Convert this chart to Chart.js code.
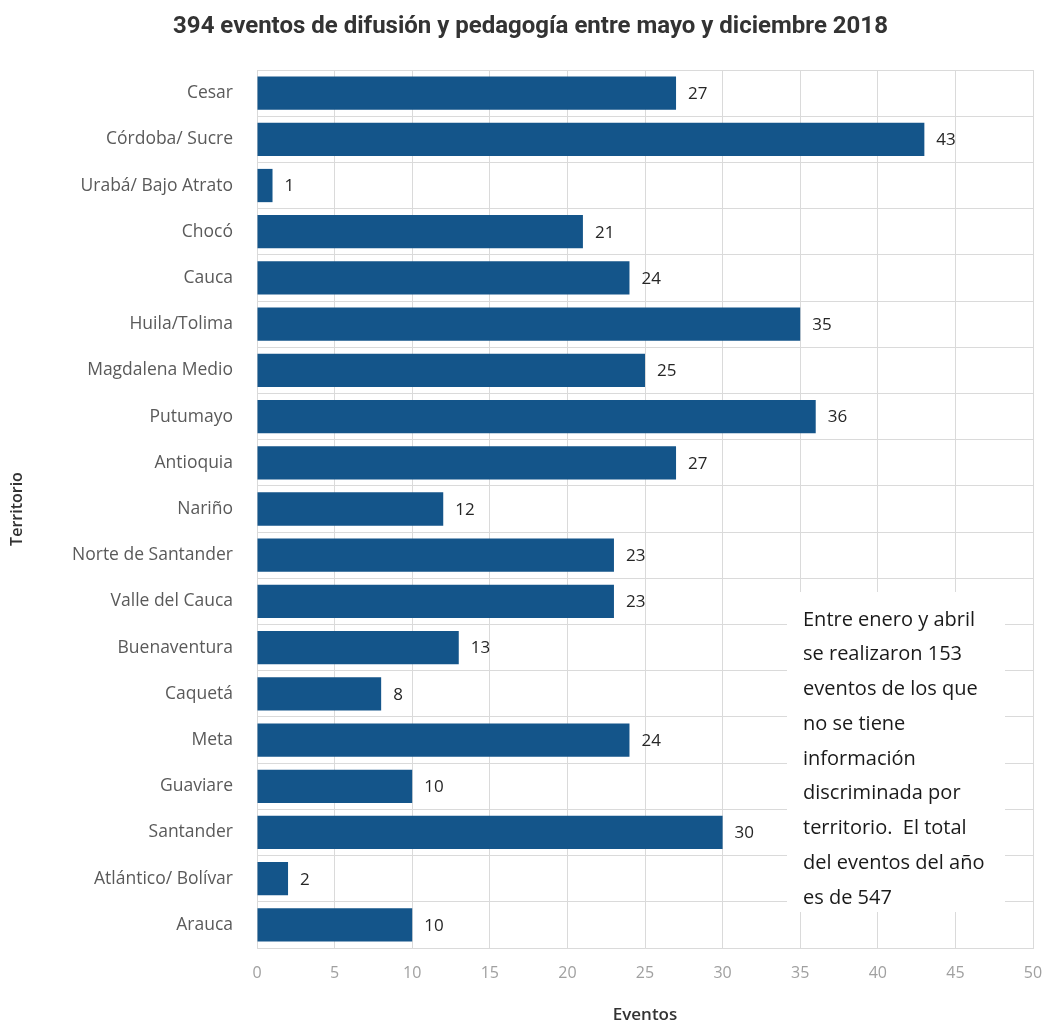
<!DOCTYPE html>
<html>
<head>
<meta charset="utf-8">
<script src="https://cdn.jsdelivr.net/npm/chart.js@4/dist/chart.umd.min.js"></script>
<style>
  html, body { margin: 0; padding: 0; background: #fff; }
  #wrap { width: 1049px; height: 1028px; }
</style>
</head>
<body>
<div id="wrap"><canvas id="myChart" width="1049" height="1028"></canvas></div>
<script>
const territorios = ['Cesar', 'Córdoba/ Sucre', 'Urabá/ Bajo Atrato', 'Chocó', 'Cauca', 'Huila/Tolima',
  'Magdalena Medio', 'Putumayo', 'Antioquia', 'Nariño', 'Norte de Santander', 'Valle del Cauca',
  'Buenaventura', 'Caquetá', 'Meta', 'Guaviare', 'Santander', 'Atlántico/ Bolívar', 'Arauca'];
const eventos = [27, 43, 1, 21, 24, 35, 25, 36, 27, 12, 23, 23, 13, 8, 24, 10, 30, 2, 10];
const nota = ['Entre enero y abril', 'se realizaron 153', 'eventos de los que', 'no se tiene',
  'información', 'discriminada por', 'territorio.  El total', 'del eventos del año', 'es de 547'];

const gridColor = '#dadada';
const labelFont = '"Open Sans", Lato, sans-serif';

// valores al final de cada barra
const valueLabels = {
  id: 'valueLabels',
  afterDatasetsDraw(chart) {
    const ctx = chart.ctx;
    const meta = chart.getDatasetMeta(0);
    ctx.save();
    ctx.font = '17px ' + labelFont;
    ctx.fillStyle = '#262626';
    ctx.textBaseline = 'middle';
    ctx.textAlign = 'left';
    meta.data.forEach((bar, i) => {
      ctx.fillText(eventos[i], bar.x + 12, bar.y + 1);
    });
    ctx.restore();
  }
};

// recuadro con la nota
const noteBox = {
  id: 'noteBox',
  beforeDatasetsDraw(chart) {
    const ctx = chart.ctx;
    const a = chart.chartArea;
    const x0 = a.left + 530, y0 = a.top + 522;
    ctx.save();
    ctx.fillStyle = '#fff';
    ctx.fillRect(x0, y0, 218, 320);
    ctx.font = '20px ' + labelFont;
    ctx.fillStyle = '#1a1a1a';
    ctx.textBaseline = 'middle';
    nota.forEach((line, i) => {
      ctx.fillText(line, x0 + 16, y0 + 28 + i * 34.75);
    });
    ctx.restore();
  }
};

new Chart(document.getElementById('myChart'), {
  type: 'bar',
  data: {
    labels: territorios,
    datasets: [{
      label: 'Eventos',
      data: eventos,
      backgroundColor: '#14558a',
      categoryPercentage: 1,
      barPercentage: 0.72
    }]
  },
  options: {
    indexAxis: 'y',
    responsive: false,
    animation: false,
    layout: { padding: { left: 28, right: 16, top: 0, bottom: 0 } },
    plugins: {
      legend: { display: false },
      tooltip: { enabled: false },
      title: {
        display: true,
        text: '394 eventos de difusión y pedagogía entre mayo y diciembre 2018',
        color: '#333',
        font: { family: 'Roboto, sans-serif', size: 24, weight: 'bold' },
        padding: { top: 13, bottom: 28.2 }
      }
    },
    scales: {
      x: {
        min: 0,
        max: 50,
        ticks: { stepSize: 5, color: '#a0a0a0', padding: 16, font: { family: labelFont, size: 16 } },
        grid: { color: gridColor, drawTicks: false },
        border: { color: gridColor },
        title: {
          display: true, text: 'Eventos', color: '#333',
          font: { family: labelFont, size: 17, weight: '600' },
          padding: { top: 0, bottom: 3 }
        },
        afterFit(scale) {
          scale.height = 80;
          scale.paddingLeft = 0;
          scale.paddingRight = 0;
        }
      },
      y: {
        ticks: { color: '#5a5a5a', padding: 24, font: { family: labelFont, size: 17.5 } },
        grid: { color: gridColor, drawTicks: false },
        border: { color: gridColor },
        title: {
          display: true, text: 'Territorio', color: '#333',
          font: { family: labelFont, size: 16, weight: '600' },
          padding: { top: -20, bottom: 0 }
        },
        afterFit(scale) { scale.width = 229; }
      }
    }
  },
  plugins: [valueLabels, noteBox]
});
</script>
</body>
</html>
